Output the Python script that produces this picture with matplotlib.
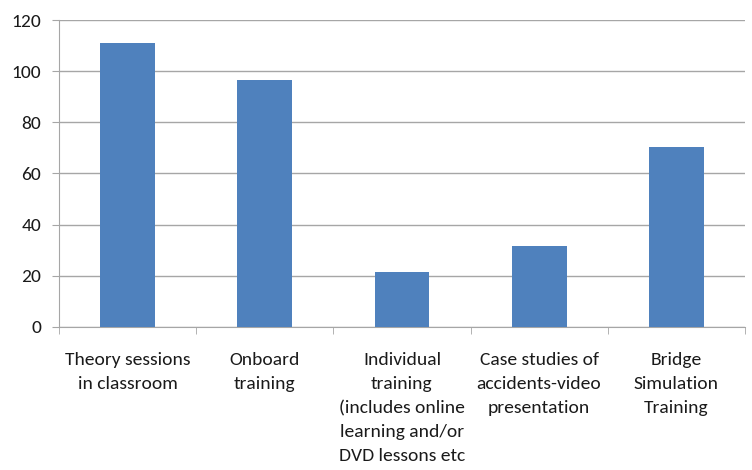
import matplotlib.pyplot as plt
import numpy as np

categories = ['Theory sessions\nin classroom', 'Onboard\ntraining',
              'Individual\ntraining\n(includes online\nlearning and/or\nDVD lessons etc',
              'Case studies of\naccidents-video\npresentation',
              'Bridge\nSimulation\nTraining']
values = [111, 96.5, 21.5, 31.5, 70.5]
yticks = [0, 20, 40, 60, 80, 100, 120]

plt.rcParams['font.family'] = ['Carlito', 'Liberation Sans', 'DejaVu Sans']

fig = plt.figure(figsize=(7.52, 4.7), dpi=100)
ax = fig.add_axes([0.0785, 0.305, 0.912, 0.652])

x = np.arange(len(categories))
ax.bar(x, values, width=0.4, color='#4F81BD', zorder=3)

ax.set_xlim(-0.5, len(categories) - 0.5)
ax.set_ylim(0, 120)
ax.set_yticks(yticks)
ax.yaxis.grid(True, color='#A6A6A6', linewidth=1, zorder=0)

ax.set_xticks(x)
ax.set_xticklabels(categories, fontsize=14, color='#1a1a1a', linespacing=1.62, va='top')
ax.set_xticks(np.arange(len(categories) + 1) - 0.5, minor=True)
ax.tick_params(axis='x', which='major', length=0, pad=18)
ax.tick_params(axis='x', which='minor', length=5, color='#A6A6A6', direction='out')
ax.tick_params(axis='y', length=5, color='#A6A6A6', labelsize=14, labelcolor='#1a1a1a', pad=8)

for side in ['top', 'right']:
    ax.spines[side].set_visible(False)
ax.spines['left'].set_color('#A6A6A6')
ax.spines['bottom'].set_color('#A6A6A6')

fig.savefig('out.png', dpi=100)
